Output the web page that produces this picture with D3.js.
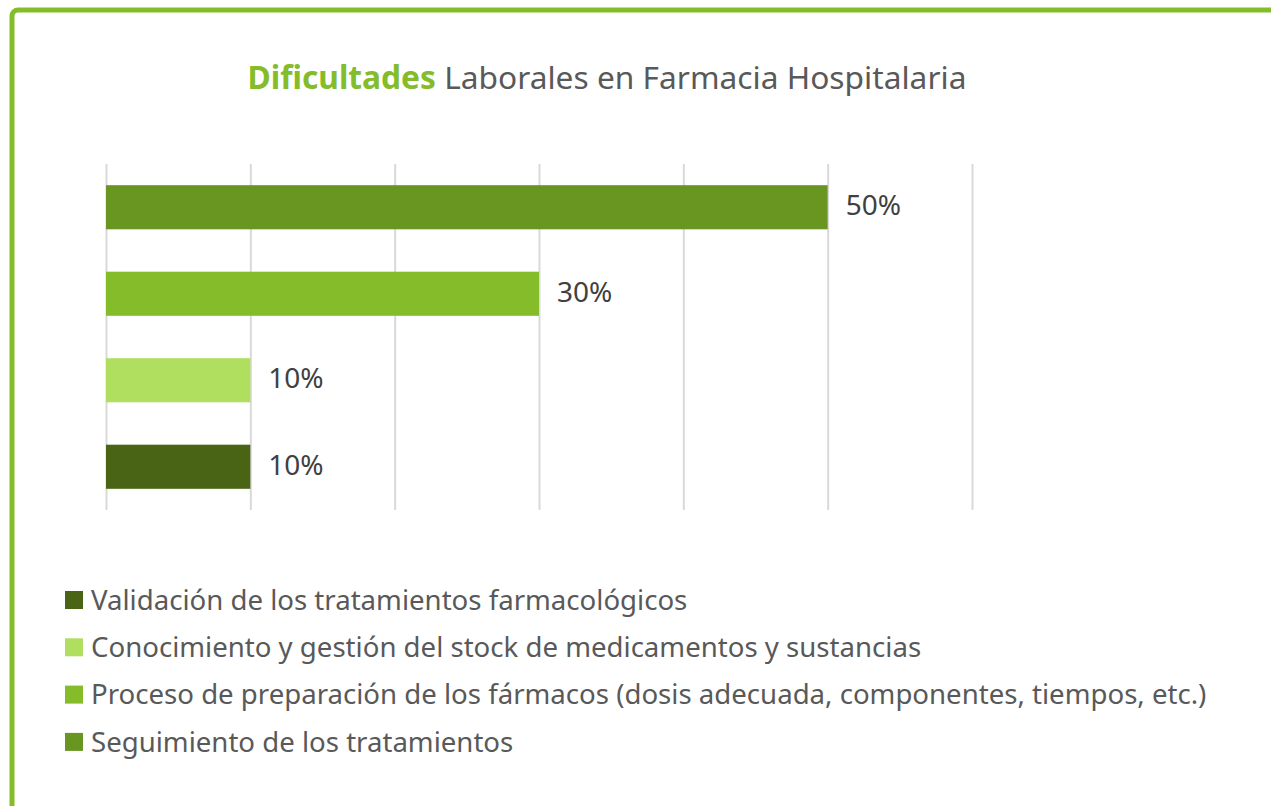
<!DOCTYPE html>
<html>

<head>
    <meta charset="UTF-8">
    <title>Dificultades Laborales en Farmacia Hospitalaria</title>
    <style>
        body { margin: 0; background: #fff; }
        svg { display: block; }
    </style>
</head>

<body>
    <svg width="1271" height="806"></svg>
    <script src="https://cdn.jsdelivr.net/npm/d3@7"></script>
    <script>
        // data, top bar first
        const categories = [
            "Seguimiento de los tratamientos",
            "Proceso de preparación de los fármacos (dosis adecuada, componentes, tiempos, etc.)",
            "Conocimiento y gestión del stock de medicamentos y sustancias",
            "Validación de los tratamientos farmacológicos"
        ];
        const values = [0.5, 0.3, 0.1, 0.1];
        const colors = ["#699521", "#84bc2a", "#b0df60", "#4a6415"];
        const ticks = [0, 0.1, 0.2, 0.3, 0.4, 0.5, 0.6];
        const legendOrder = [3, 2, 1, 0];

        const font = "'Noto Sans', 'Open Sans', sans-serif";
        const svg = d3.select("svg");

        // frame: only top and left edges show
        svg.append("rect")
            .attr("x", 12).attr("y", 10)
            .attr("width", 1400).attr("height", 1000)
            .attr("rx", 6)
            .attr("fill", "none")
            .attr("stroke", "#84bc2a")
            .attr("stroke-width", 5);

        // title
        const title = svg.append("text")
            .attr("x", 607).attr("y", 89)
            .attr("text-anchor", "middle")
            .style("font-family", font)
            .style("font-size", "31.7px")
            .attr("fill", "#595959");
        title.append("tspan").attr("fill", "#84bc2a").style("font-weight", "bold").text("Dificultades");
        title.append("tspan").text(" Laborales en Farmacia Hospitalaria");

        const x = d3.scaleLinear().domain([0, 0.6]).range([106, 972]);
        const y = d3.scaleBand().domain(categories).range([164, 510])
            .paddingInner(0.49).paddingOuter(0.245);

        // vertical gridlines
        const grid = svg.append("g")
            .attr("transform", "translate(0,510)")
            .call(d3.axisBottom(x).tickValues(ticks).tickSize(-346).tickFormat(""));
        grid.select(".domain").remove();
        grid.selectAll(".tick line").attr("stroke", "#d9d9d9").attr("stroke-width", 2);

        svg.selectAll(".bar")
            .data(categories)
            .enter().append("rect")
            .attr("class", "bar")
            .attr("x", x(0))
            .attr("y", d => y(d))
            .attr("width", (d, i) => x(values[i]) - x(0))
            .attr("height", y.bandwidth())
            .attr("fill", (d, i) => colors[i]);

        svg.selectAll(".lbl")
            .data(categories)
            .enter().append("text")
            .attr("class", "lbl")
            .attr("x", (d, i) => x(values[i]) + 18)
            .attr("y", d => y(d) + y.bandwidth() / 2 - 2)
            .attr("dy", "0.35em")
            .style("font-family", font)
            .style("font-size", "28px")
            .attr("fill", "#404040")
            .text((d, i) => d3.format(".0%")(values[i]));

        // legend
        const legend = svg.selectAll(".legend")
            .data(legendOrder)
            .enter().append("g")
            .attr("class", "legend")
            .attr("transform", (d, k) => `translate(65,${600 + k * 47.3})`);

        legend.append("rect")
            .attr("y", -9)
            .attr("width", 18).attr("height", 18)
            .attr("fill", i => colors[i]);

        legend.append("text")
            .attr("x", 26)
            .attr("dy", "0.35em")
            .style("font-family", font)
            .style("font-size", "27.6px")
            .attr("fill", "#595959")
            .text(i => categories[i]);
    </script>
</body>

</html>
